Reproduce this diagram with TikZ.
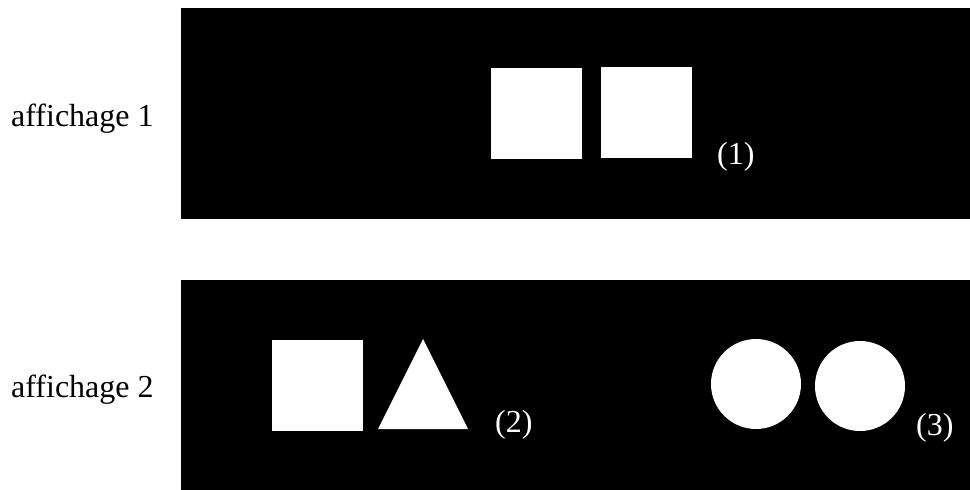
\documentclass[tikz,border=0pt]{standalone}
\usepackage{fontspec}
\setmainfont{Liberation Serif}
\usetikzlibrary{positioning}

\begin{document}
\begin{tikzpicture}[
  x=1pt, y=-1pt,
  screen/.style={fill=black, draw=none},
  sq/.style={fill=white, draw=none, minimum size=91pt, inner sep=0pt},
  disc/.style={circle, fill=white, draw=none, minimum size=90pt, inner sep=0pt},
  lbl/.style={anchor=base west, inner sep=0pt, font=\fontsize{32}{38}\selectfont},
  tag/.style={lbl, text=white}
]
  \useasboundingbox (0,0) rectangle (970,490);
  % the two screens
  \fill[screen] (181,8) rectangle (970,219);
  \fill[screen] (181,280) rectangle (970,490);
  \node[lbl] (aff1) at (11,126) {affichage 1};
  \node[lbl] (aff2) at (11,397) {affichage 2};
  % display 1
  \node[sq] (s1) at (536.5,113.5) {};
  \node[sq] (s2) at (646.5,112.5) {};
  \node[tag] (t1) at (717,164) {(1)};
  % display 2
  \node[sq] (s3) at (317.5,385.5) {};
  \fill[white] (378,429) -- (423,339) -- (468,429) -- cycle;
  \node[tag] (t2) at (495,432) {(2)};
  \node[disc] (c1) at (756,384) {};
  \node[disc] (c2) at (860,386) {};
  \node[tag] (t3) at (916,435) {(3)};
\end{tikzpicture}
\end{document}
